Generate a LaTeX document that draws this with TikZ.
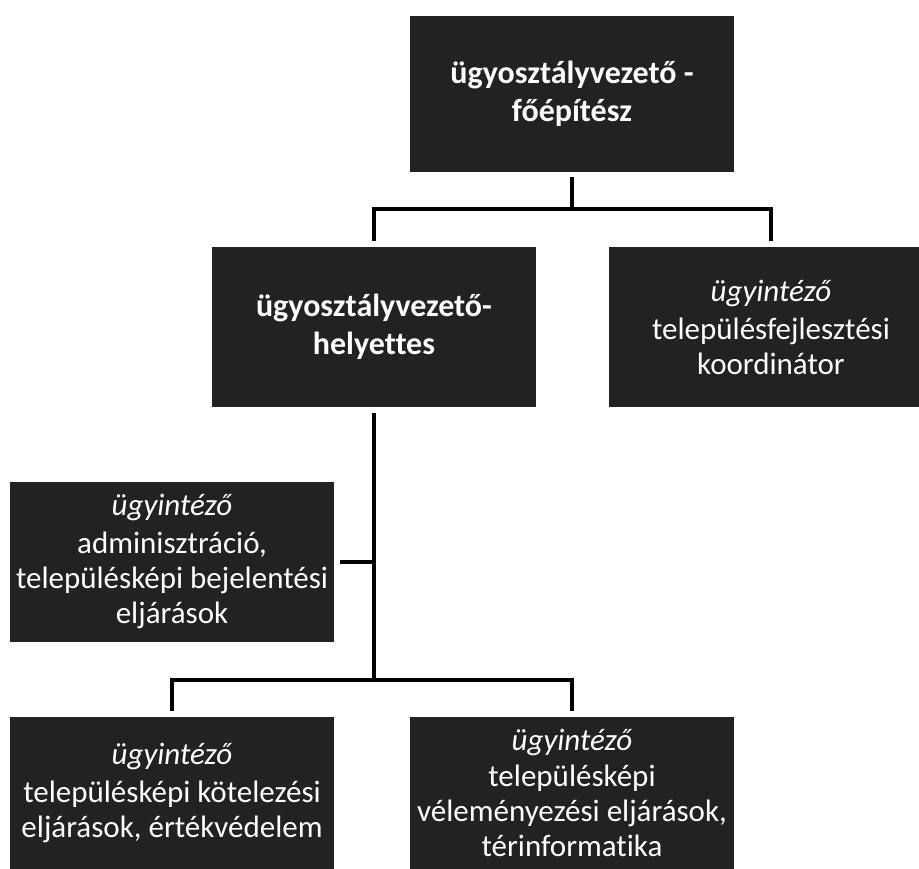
\documentclass[tikz,border=0pt]{standalone}
\usepackage{fontspec}
\setmainfont{Carlito}[Ligatures=NoCommon]
\usepackage{xcolor}
\usepackage{tikz}
\usetikzlibrary{positioning,calc}
\definecolor{boxfill}{HTML}{222222}

\begin{document}
\begin{tikzpicture}[
  x=1pt, y=1pt,
  org/.style={fill=boxfill, text=white, minimum width=324pt, minimum height=160pt, inner xsep=0pt, inner ysep=3pt, align=center, font=\fontsize{31}{35}\selectfont},
  conn/.style={line width=4.5pt, line join=miter}
]
\clip (0,0) rectangle (919,869);
\node[org, minimum height=156pt, font=\fontsize{32}{38}\selectfont\bfseries] (chief) at (572,775)
  {ügyosztályvezető -\\ főépítész};
\node[org, font=\fontsize{32}{38}\selectfont\bfseries] (deputy) at (374,542)
  {ügyosztályvezető-\\ helyettes};
\node[org] (devel) at (771,542)
  {\textit{ügyintéző}\\[3pt] településfejlesztési\\ koordinátor};
\node[org] (admin) at (172,307)
  {\textit{ügyintéző}\\[3pt] adminisztráció,\\ településképi bejelentési\\ eljárások};
\node[org, minimum height=152pt] (oblig) at (172,76)
  {\textit{ügyintéző}\\[3pt] településképi kötelezési\\ eljárások, értékvédelem};
\node[org, minimum height=152pt] (opin) at (572,76)
  {\textit{ügyintéző}\\[1pt] településképi\\ véleményezési eljárások,\\ térinformatika};
\coordinate (busa) at (572,660);
\coordinate (busb) at (374,189);
\draw[conn] ([yshift=-5pt]chief.south) -- (busa);
\draw[conn] ([yshift=6pt]deputy.north) |- (busa) -| ([yshift=6pt]devel.north);
\draw[conn] ([yshift=-6pt]deputy.south) -- (busb);
\draw[conn] ([xshift=6pt]admin.east) -- (admin.east -| busb);
\draw[conn] ([yshift=6pt]oblig.north) |- (busb) -| ([yshift=6pt]opin.north);
\end{tikzpicture}
\end{document}
